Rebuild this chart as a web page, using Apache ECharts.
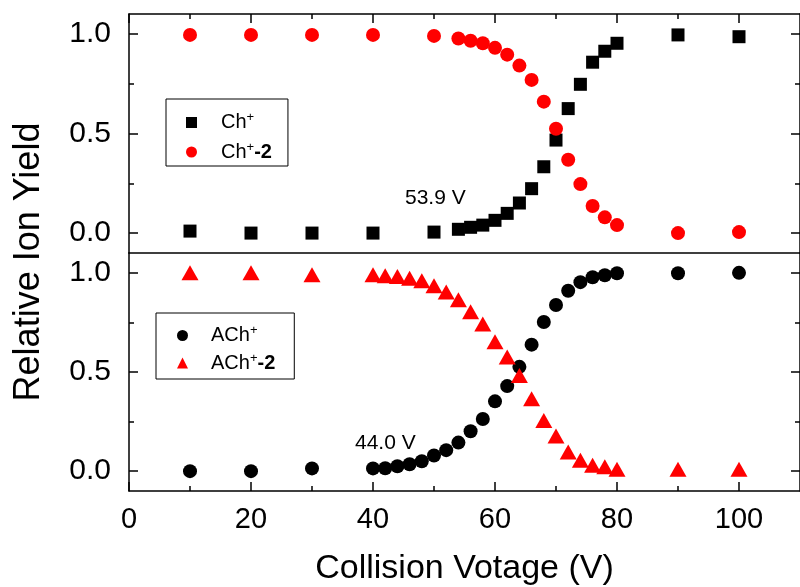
<!DOCTYPE html>
<html><head><meta charset="utf-8">
<script src="https://cdn.jsdelivr.net/npm/echarts@6/dist/echarts.min.js"></script>
<style>html,body{margin:0;padding:0;background:#fff}#c{width:800px;height:587px}</style>
</head><body><div id="c"></div>
<script>
const voltTop = [10,20,30,40,50,54,56,58,60,62,64,66,68,70,72,74,76,78,80,90,100];
const chPlus  = [0.01,0,0,0,0.005,0.019,0.029,0.04,0.064,0.099,0.151,0.223,0.333,0.467,0.625,0.747,0.858,0.913,0.953,0.995,0.986];
const chPlus2 = [0.995,0.995,0.995,0.995,0.99,0.977,0.966,0.953,0.93,0.896,0.841,0.769,0.66,0.524,0.368,0.246,0.136,0.079,0.04,0.0,0.005];
const voltBot = [10,20,30,40,42,44,46,48,50,52,54,56,58,60,62,64,66,68,70,72,74,76,78,80,90,100];
const achPlus  = [0,0,0.014,0.014,0.015,0.025,0.035,0.05,0.079,0.106,0.144,0.201,0.263,0.352,0.429,0.526,0.638,0.752,0.838,0.91,0.953,0.978,0.988,0.998,0.998,1.0];
const achPlus2 = [1.0,1.0,0.99,0.99,0.985,0.981,0.973,0.96,0.935,0.903,0.864,0.804,0.742,0.652,0.576,0.482,0.365,0.256,0.177,0.097,0.055,0.03,0.022,0.01,0.01,0.01];
const xMajor = [0,20,40,60,80,100];
const xMinor = [10,30,50,70,90];
const yMajor = [0,0.5,1.0];
const yMinor = [0.25,0.75];
const xTitle = 'Collision Votage (V)';
const yTitle = 'Relative Ion Yield';

const FONT = 'Liberation Sans, Arial, sans-serif';
const lineStyle = {color:'#000', width:1.5};
const pair = (xs, ys) => xs.map((x,i)=>[x, ys[i]]);

function xAx(grid, pos, opts) {
  return Object.assign({
    type:'value', gridIndex:grid, position:pos, min:0, max:110,
    axisLine:{show:false, onZero:false, lineStyle}, splitLine:{show:false},
    axisLabel:{show:false}, axisTick:{show:false}
  }, opts);
}
function yAx(grid, pos, opts) {
  return Object.assign({
    type:'value', gridIndex:grid, position:pos, min:-0.1, max:1.1,
    axisLine:{show:false, onZero:false, lineStyle}, splitLine:{show:false},
    axisLabel:{show:false}, axisTick:{show:false}
  }, opts);
}
const shownLine = {show:true, onZero:false, lineStyle};
const majTick = (vals)=>({show:true, inside:true, length:9, customValues:vals, lineStyle});
const minTick = (vals)=>({show:true, inside:true, length:5, customValues:vals, lineStyle});

const xAxis = [
  xAx(0,'bottom',{axisLine:shownLine}),
  xAx(0,'top',{axisLine:shownLine, axisTick:majTick(xMajor)}),
  xAx(0,'top',{axisTick:minTick(xMinor)}),
  xAx(1,'bottom',{axisLine:shownLine, axisTick:majTick(xMajor),
    axisLabel:{show:true, customValues:xMajor, fontSize:29, color:'#000', fontFamily:FONT, margin:14},
    name:xTitle, nameLocation:'middle', nameGap:61,
    nameTextStyle:{fontSize:34, color:'#000', fontFamily:FONT}}),
  xAx(1,'bottom',{axisTick:minTick(xMinor)})
];
const yAxis = [];
[0,1].forEach(g=>{
  yAxis.push(yAx(g,'left',{axisLine:shownLine, axisTick:majTick(yMajor),
    axisLabel:{show:true, customValues:yMajor, fontSize:30, color:'#000', fontFamily:FONT, margin:18,
      formatter:v=>v.toFixed(1)}}));
  yAxis.push(yAx(g,'left',{axisTick:minTick(yMinor)}));
  yAxis.push(yAx(g,'right',{axisLine:shownLine, axisTick:majTick(yMajor)}));
  yAxis.push(yAx(g,'right',{axisTick:minTick(yMinor)}));
});

const rich = {
  n:{fontSize:20, color:'#000', fontFamily:FONT, lineHeight:22},
  s:{fontSize:13, color:'#000', fontFamily:FONT, padding:[0,0,10,0]},
  b:{fontSize:20, color:'#000', fontFamily:FONT, fontWeight:'bold', lineHeight:22}
};
const legendFmt = name => {
  const base = name.replace(/\+.*$/,'');
  return name.endsWith('-2') ? `{n|${base}}{s|+}{b|-2}` : `{n|${base}}{s|+}`;
};
function legend(names, left, top, pad, gap, textPad) {
  return {
    data:names, orient:'vertical', left, top,
    borderColor:'#000', borderWidth:1, padding:pad,
    itemWidth:11, itemHeight:11, itemGap:gap,
    formatter:legendFmt, textStyle:{rich, padding:[0,0,0,textPad]},
    selectedMode:false
  };
}

const option = {
  animation:false,
  backgroundColor:'#fff',
  grid:[
    {left:129, top:14, width:674, height:239},
    {left:129, top:253, width:674, height:239}
  ],
  xAxis, yAxis,
  legend:[
    legend(['Ch+','Ch+-2'], 166, 99, [12,16,4,20], 8, 19),
    legend(['ACh+','ACh+-2'], 156, 313, [11,19,6,21], 6, 18)
  ],
  series:[
    {name:'Ch+', type:'scatter', xAxisIndex:0, yAxisIndex:0, symbol:'rect', symbolSize:13,
      itemStyle:{color:'#000', opacity:1}, data:pair(voltTop, chPlus)},
    {name:'Ch+-2', type:'scatter', xAxisIndex:0, yAxisIndex:0, symbol:'circle', symbolSize:14,
      itemStyle:{color:'#ff0000', opacity:1}, data:pair(voltTop, chPlus2)},
    {name:'ACh+', type:'scatter', xAxisIndex:3, yAxisIndex:4, symbol:'circle', symbolSize:14,
      itemStyle:{color:'#000', opacity:1}, data:pair(voltBot, achPlus)},
    {name:'ACh+-2', type:'scatter', xAxisIndex:3, yAxisIndex:4, symbol:'triangle', symbolSize:[17,15],
      itemStyle:{color:'#ff0000', opacity:1}, data:pair(voltBot, achPlus2)}
  ],
  graphic:[
    {type:'text', left:405, top:188, style:{text:'53.9 V', fontSize:21, fill:'#000', fontFamily:FONT}},
    {type:'text', left:355, top:433, style:{text:'44.0 V', fontSize:21, fill:'#000', fontFamily:FONT}},
    {type:'text', x:29, y:262, rotation:Math.PI/2,
      style:{text:yTitle, fontSize:36, fill:'#000', fontFamily:FONT, align:'center', verticalAlign:'middle'}}
  ]
};
const chart = echarts.init(document.getElementById('c'), null, {renderer:'canvas'});
chart.setOption(option);
</script></body></html>
